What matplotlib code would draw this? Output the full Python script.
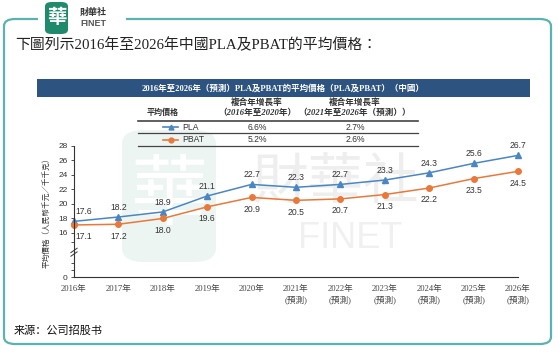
"""
Average price of PLA and PBAT in China, 2016-2026 (forecast)
"""

import matplotlib.pyplot as plt
import numpy as np
from matplotlib.patches import FancyBboxPatch, Rectangle
from matplotlib.lines import Line2D

# data
years = ['2016年', '2017年', '2018年', '2019年', '2020年',
         '2021年\n(預測)', '2022年\n(預測)', '2023年\n(預測)',
         '2024年\n(預測)', '2025年\n(預測)', '2026年\n(預測)']
pla = [17.6, 18.2, 18.9, 21.1, 22.7, 22.3, 22.7, 23.3, 24.3, 25.6, 26.7]
pbat = [17.1, 17.2, 18.0, 19.6, 20.9, 20.5, 20.7, 21.3, 22.2, 23.5, 24.5]
y_ticks = [0, 16, 18, 20, 22, 24, 26, 28]
cagr_pla = ['6.6%', '2.7%']
cagr_pbat = ['5.2%', '2.6%']

BLUE = '#4a86c2'
ORANGE = '#e8793a'
NAVY = '#2d5380'
TEAL = '#5ab3ae'

SERIF = ['Liberation Serif', 'Noto Sans CJK TC']
SANS = ['Liberation Sans', 'Noto Sans CJK TC']

W, H = 559, 352


def fx(x):
    return x / W


def fy(y):
    return 1 - y / H


fig = plt.figure(figsize=(W / 100, H / 100), dpi=100)

# outer rounded frame, with a gap behind the logo
frame = FancyBboxPatch((fx(4), fy(344)), fx(551) - fx(4), fy(19) - fy(344),
                       boxstyle='round,pad=0,rounding_size=0.02',
                       transform=fig.transFigure, fill=False,
                       edgecolor=TEAL, linewidth=1.6, zorder=1)
fig.patches.append(frame)
fig.patches.append(Rectangle((fx(38), fy(24)), fx(88), fy(14) - fy(24),
                             transform=fig.transFigure, facecolor='white',
                             edgecolor='none', zorder=2))

# logo
fig.patches.append(FancyBboxPatch((fx(45), fy(34)), fx(23), fy(2) - fy(34),
                                  boxstyle='round,pad=0,rounding_size=0.012',
                                  transform=fig.transFigure, facecolor='#1f8a6c',
                                  edgecolor='none', zorder=3))
fig.text(fx(56.5), fy(18), '華', color='white', fontsize=14, ha='center',
         va='center', family=SERIF, fontweight='bold', zorder=4)
fig.text(fx(80), fy(12), '財華社', color='#333333', fontsize=6.5,
         ha='left', va='center', family=SANS, fontweight='bold', zorder=4)
fig.text(fx(80), fy(23), 'FINET', color='#555555', fontsize=6.5,
         ha='left', va='center', family=SANS, fontweight='bold', zorder=4)

# headline
fig.text(fx(15), fy(45), '下圖列示2016年至2026年中國PLA及PBAT的平均價格：',
         fontsize=10.7, ha='left', va='center', family=SERIF, color='#222222')

# navy banner
fig.patches.append(Rectangle((fx(37), fy(97)), fx(493), fy(79) - fy(97),
                             transform=fig.transFigure, facecolor=NAVY,
                             edgecolor='none', zorder=2))
fig.text(fx(283), fy(88),
         '2016年至2026年（預測）PLA及PBAT的平均價格（PLA及PBAT）（中國）',
         color='white', fontsize=6.1, fontweight='bold', ha='center',
         va='center', family=SERIF, zorder=3)

# CAGR table
tc = '#333333'
fig.text(fx(163), fy(113), '平均價格', fontsize=5.8, ha='center', va='center',
         family=SERIF, fontweight='bold', color=tc)
for xc, period in [(257, '（2016年至2020年）'), (355, '（2021年至2026年（預測））')]:
    fig.text(fx(xc), fy(103), '複合年增長率', fontsize=6.2, ha='center',
             va='center', family=SERIF, fontweight='bold', style='italic', color=tc)
    fig.text(fx(xc), fy(113), period, fontsize=6.2, ha='center',
             va='center', family=SERIF, fontweight='bold', style='italic', color=tc)
for yl, lw in [(120.5, 1.2), (133, 0.9), (146, 0.9)]:
    fig.add_artist(Line2D([fx(138), fx(418)], [fy(yl), fy(yl)],
                          transform=fig.transFigure, color='#444444', linewidth=lw))
for yr, name, col, mk, vals in [(127, 'PLA', BLUE, '^', cagr_pla),
                                (140, 'PBAT', ORANGE, 'o', cagr_pbat)]:
    fig.add_artist(Line2D([fx(163), fx(178)], [fy(yr), fy(yr)],
                          transform=fig.transFigure, color=col, linewidth=1.2))
    fig.add_artist(Line2D([fx(170.5)], [fy(yr)], transform=fig.transFigure,
                          color=col, marker=mk, markersize=3.5))
    fig.text(fx(182), fy(yr), name, fontsize=6.2, ha='left', va='center',
             family=SANS, color=tc)
    fig.text(fx(257), fy(yr), vals[0], fontsize=6.2, ha='center', va='center',
             family=SANS, color=tc)
    fig.text(fx(355), fy(yr), vals[1], fontsize=6.2, ha='center', va='center',
             family=SANS, color=tc)

# faint watermark, kept behind the chart
fig.patches.append(FancyBboxPatch((fx(122), fy(262)), fx(94), fy(130) - fy(262),
                                  boxstyle='round,pad=0,rounding_size=0.04',
                                  transform=fig.transFigure, facecolor='#edf5f3',
                                  edgecolor='none', zorder=-2))
fig.text(fx(169), fy(200), '華', color='white', fontsize=56, ha='center',
         va='center', family=SERIF, zorder=-1)
fig.text(fx(335), fy(186), '財華社', color='#eeeeee', fontsize=40,
         ha='center', va='center', family=SANS, zorder=-1)
fig.text(fx(350), fy(238), 'FINET', color='#f0f0f0', fontsize=26,
         ha='center', va='center', family=SANS, zorder=-1)

# chart
ax = fig.add_axes([fx(74), fy(277), fx(518) - fx(74), fy(146) - fy(277)])
ax.patch.set_alpha(0)
ax.set_zorder(5)

K = 0.38


def fwd(y):
    y = np.asarray(y, float)
    return np.where(y >= 16, y, 16 - (16 - y) * K)


def inv(y):
    y = np.asarray(y, float)
    return np.where(y >= 16, y, 16 - (16 - y) / K)


ax.set_yscale('function', functions=(fwd, inv))
x = np.arange(len(years))
ax.plot(x, pla, color=BLUE, linewidth=1.1, marker='^', markersize=4, clip_on=False)
ax.plot(x, pbat, color=ORANGE, linewidth=1.1, marker='o', markersize=4, clip_on=False)

for i, (a, b) in enumerate(zip(pla, pbat)):
    dx = 7 if i == 0 else 0
    ax.annotate(f'{a:.1f}', (x[i], a), xytext=(dx, 7), textcoords='offset points',
                ha='center', va='center', fontsize=6.2, family=SANS, color='#333333')
    ax.annotate(f'{b:.1f}', (x[i], b), xytext=(dx, -8.5), textcoords='offset points',
                ha='center', va='center', fontsize=6.2, family=SANS, color='#333333')

ax.set_xlim(0, len(years) - 1)
ax.set_ylim(0, 28)
ax.set_yticks(y_ticks)
ax.set_yticks([2.5, 5, 12.7], minor=True)
ax.set_yticklabels([str(t) for t in y_ticks], fontsize=6, family=SANS, color='#333333')
ax.set_xticks(x)
ax.set_xticklabels(years, fontsize=6.2, family=SERIF, color='#444444', linespacing=1.3)
ax.tick_params(axis='x', length=0, pad=6)
ax.tick_params(axis='y', which='both', length=2.5, width=0.6, pad=2, colors='#333333')
for s in ['top', 'right']:
    ax.spines[s].set_visible(False)
for s in ['left', 'bottom']:
    ax.spines[s].set_color('#333333')
    ax.spines[s].set_linewidth(0.8)

# axis break marks
yb = float(fwd(9.0))
for off in (-0.25, 0.25):
    ax.plot([-0.07, 0.07], [inv(yb + off - 0.3), inv(yb + off + 0.3)],
            color='#333333', linewidth=0.7, clip_on=False)

fig.text(fx(47), fy(211), '平均價格（人民幣千元／千千克）', rotation=90,
         fontsize=5.5, ha='center', va='center', family=SANS, color='#333333')

# source
fig.text(fx(14), fy(331), '来源：公司招股书', fontsize=8, ha='left', va='center',
         family=['Noto Sans CJK SC'], color='#111111')

plt.savefig('out.png', dpi=100)
